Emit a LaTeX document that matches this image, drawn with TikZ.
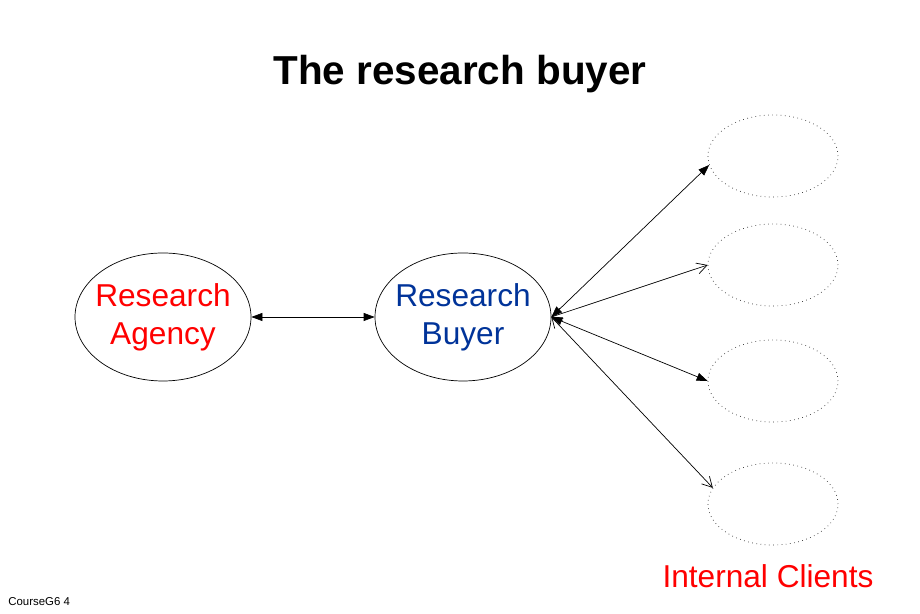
\documentclass[tikz,border=0pt]{standalone}
\usepackage{fontspec}
\setmainfont{Liberation Sans}
\usetikzlibrary{arrows.meta,positioning,shapes.geometric}
\definecolor{agency}{HTML}{FF0000}
\definecolor{buyer}{HTML}{003399}
\definecolor{dots}{HTML}{333333}

\begin{document}
\begin{tikzpicture}[
  x=1cm, y=1cm,
  ovl/.style={draw=black,ellipse,minimum width=3.52cm,minimum height=2.56cm,
              align=center,inner xsep=-2.2mm,inner ysep=0pt,
              font=\fontsize{18}{21.6}\selectfont},
  client/.style={draw=dots,dotted,ellipse,minimum width=2.6cm,minimum height=1.64cm},
  fb/.style={{Triangle[length=2.2mm,width=1.6mm]}-{Triangle[length=2.2mm,width=1.6mm]},draw=black},
  f/.style={{Straight Barb[length=2mm,width=2.2mm]}-{Straight Barb[length=2mm,width=2.2mm]},draw=black},
]
\useasboundingbox (0,0) rectangle (18.4,12.28);

% --- title ---------------------------------------------------------------
\node[font=\fontsize{23}{27}\selectfont\bfseries] (title) at (9.2,10.8) {The research buyer};

% --- the two main parties ------------------------------------------------
\node[ovl,text=agency] (agency) at (3.26,5.94) {Research\\Agency};
\node[ovl,text=buyer]  (buyer)  at (9.26,5.94) {Research\\Buyer};

% --- internal clients ----------------------------------------------------
\node[client] (c1) at (15.46,9.16) {};
\node[client] (c2) at (15.46,6.98) {};
\node[client] (c3) at (15.46,4.66) {};
\node[client] (c4) at (15.46,2.20) {};
\node[text=agency,font=\fontsize{18}{21.6}\selectfont] (clients) at (15.36,0.76) {Internal Clients};

% --- links ---------------------------------------------------------------
\draw[fb] (agency.east) -- (buyer.west);
\draw[fb] (buyer.east) -- (c1.188);
\draw[f]  (buyer.east) -- (c2.west);
\draw[fb] (buyer.east) -- (c3.west);
\draw[f]  (buyer.east) -- (c4.165);

% --- footer --------------------------------------------------------------
\node[anchor=west,font=\fontsize{6.5}{8}\selectfont,inner sep=0pt] (foot) at (0.16,0.24) {CourseG6 4};
\end{tikzpicture}
\end{document}
